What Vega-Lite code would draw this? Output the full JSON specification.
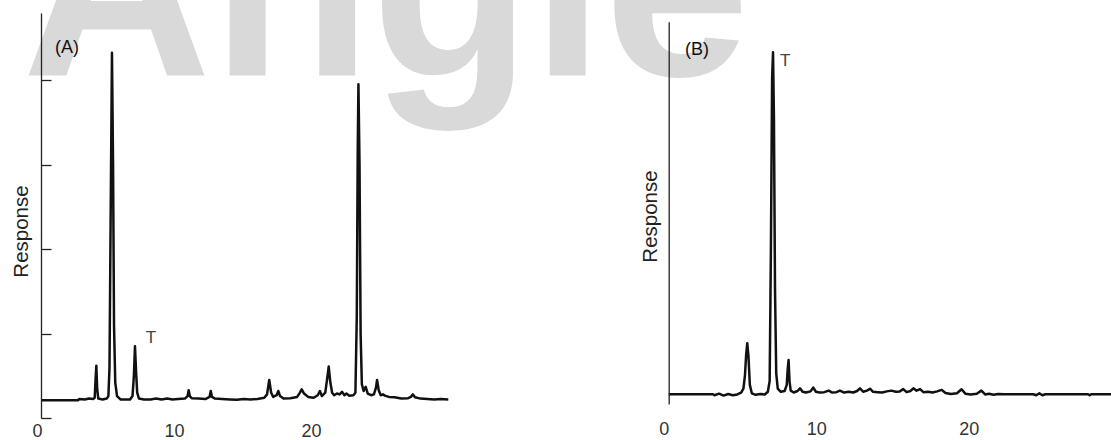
{
  "$schema": "https://vega.github.io/schema/vega-lite/v6.json",
  "width": 1111,
  "height": 440,
  "autosize": {"type": "none"},
  "padding": 0,
  "background": "white",
  "config": {"view": {"stroke": null}, "axis": {"grid": false}},
  "datasets": {
    "wm": [{"label": "Angle", "t": -1.38, "r": 4.06}],
    "labA": [{"label": "(A)", "t": 1.02, "r": 4.38}],
    "tA": [{"label": "T", "t": 8.03, "r": 0.95}],
    "labB": [{"label": "(B)", "t": 1.07, "r": 92.6}],
    "tB": [{"label": "T", "t": 7.63, "r": 89.7}],
    "traceA": [
      {"t": 0, "r": 0.21}, {"t": 1, "r": 0.21}, {"t": 2, "r": 0.21}, {"t": 2.7, "r": 0.21}, {"t": 2.8, "r": 0.225},
      {"t": 3.2, "r": 0.22}, {"t": 3.5, "r": 0.23}, {"t": 3.8, "r": 0.225}, {"t": 3.92, "r": 0.24}, {"t": 3.98, "r": 0.45},
      {"t": 4.04, "r": 0.62}, {"t": 4.1, "r": 0.35}, {"t": 4.18, "r": 0.23}, {"t": 4.5, "r": 0.22}, {"t": 4.8, "r": 0.23},
      {"t": 4.92, "r": 0.26}, {"t": 5.0, "r": 0.6}, {"t": 5.08, "r": 2.3}, {"t": 5.18, "r": 4.33}, {"t": 5.26, "r": 3.0},
      {"t": 5.33, "r": 1.1}, {"t": 5.42, "r": 0.42}, {"t": 5.55, "r": 0.26}, {"t": 5.8, "r": 0.22}, {"t": 6.2, "r": 0.22},
      {"t": 6.5, "r": 0.22}, {"t": 6.68, "r": 0.26}, {"t": 6.78, "r": 0.5}, {"t": 6.86, "r": 0.85}, {"t": 6.94, "r": 0.55},
      {"t": 7.02, "r": 0.3}, {"t": 7.15, "r": 0.23}, {"t": 7.5, "r": 0.22}, {"t": 8.0, "r": 0.22}, {"t": 8.4, "r": 0.23},
      {"t": 8.8, "r": 0.22}, {"t": 9.2, "r": 0.23}, {"t": 9.6, "r": 0.22}, {"t": 10.0, "r": 0.225}, {"t": 10.5, "r": 0.23},
      {"t": 10.7, "r": 0.26}, {"t": 10.78, "r": 0.33}, {"t": 10.86, "r": 0.26}, {"t": 11.0, "r": 0.235}, {"t": 11.5, "r": 0.23},
      {"t": 12.0, "r": 0.225}, {"t": 12.3, "r": 0.25}, {"t": 12.39, "r": 0.32}, {"t": 12.48, "r": 0.25}, {"t": 12.7, "r": 0.23},
      {"t": 13.2, "r": 0.225}, {"t": 13.8, "r": 0.22}, {"t": 14.3, "r": 0.215}, {"t": 14.8, "r": 0.225}, {"t": 15.3, "r": 0.22},
      {"t": 15.8, "r": 0.225}, {"t": 16.3, "r": 0.24}, {"t": 16.5, "r": 0.28}, {"t": 16.66, "r": 0.45}, {"t": 16.8, "r": 0.3},
      {"t": 16.95, "r": 0.25}, {"t": 17.2, "r": 0.27}, {"t": 17.32, "r": 0.32}, {"t": 17.45, "r": 0.26}, {"t": 17.7, "r": 0.23},
      {"t": 18.2, "r": 0.235}, {"t": 18.7, "r": 0.25}, {"t": 18.9, "r": 0.3}, {"t": 19.03, "r": 0.34}, {"t": 19.2, "r": 0.29},
      {"t": 19.5, "r": 0.25}, {"t": 19.9, "r": 0.24}, {"t": 20.2, "r": 0.27}, {"t": 20.36, "r": 0.32}, {"t": 20.5, "r": 0.26},
      {"t": 20.75, "r": 0.3}, {"t": 20.9, "r": 0.48}, {"t": 21.0, "r": 0.61}, {"t": 21.12, "r": 0.42}, {"t": 21.25, "r": 0.3},
      {"t": 21.4, "r": 0.27}, {"t": 21.6, "r": 0.29}, {"t": 21.8, "r": 0.28}, {"t": 21.97, "r": 0.31}, {"t": 22.15, "r": 0.27},
      {"t": 22.3, "r": 0.29}, {"t": 22.5, "r": 0.265}, {"t": 22.8, "r": 0.27}, {"t": 22.95, "r": 0.3}, {"t": 23.05, "r": 1.2},
      {"t": 23.12, "r": 3.2}, {"t": 23.17, "r": 3.955}, {"t": 23.25, "r": 3.0}, {"t": 23.33, "r": 1.0}, {"t": 23.42, "r": 0.4},
      {"t": 23.55, "r": 0.32}, {"t": 23.7, "r": 0.37}, {"t": 23.85, "r": 0.29}, {"t": 24.1, "r": 0.27}, {"t": 24.3, "r": 0.28},
      {"t": 24.45, "r": 0.36}, {"t": 24.53, "r": 0.45}, {"t": 24.65, "r": 0.33}, {"t": 24.8, "r": 0.27}, {"t": 24.96, "r": 0.28},
      {"t": 25.1, "r": 0.265}, {"t": 25.4, "r": 0.25}, {"t": 25.8, "r": 0.245}, {"t": 26.3, "r": 0.23}, {"t": 26.8, "r": 0.235},
      {"t": 27.0, "r": 0.25}, {"t": 27.15, "r": 0.28}, {"t": 27.3, "r": 0.245}, {"t": 27.7, "r": 0.23}, {"t": 28.2, "r": 0.225},
      {"t": 28.7, "r": 0.22}, {"t": 29.2, "r": 0.225}, {"t": 29.73, "r": 0.22}
    ],
    "traceB": [
      {"t": 0, "r": 2.54}, {"t": 2.9, "r": 2.54}, {"t": 3.0, "r": 2.3}, {"t": 3.3, "r": 2.7}, {"t": 3.6, "r": 2.2},
      {"t": 3.9, "r": 2.6}, {"t": 4.2, "r": 2.3}, {"t": 4.5, "r": 2.5}, {"t": 4.75, "r": 3.0}, {"t": 4.9, "r": 4.0},
      {"t": 5.0, "r": 7.5}, {"t": 5.08, "r": 13.0}, {"t": 5.15, "r": 15.9}, {"t": 5.23, "r": 12.5}, {"t": 5.32, "r": 5.0},
      {"t": 5.45, "r": 2.8}, {"t": 5.7, "r": 2.4}, {"t": 6.0, "r": 2.6}, {"t": 6.3, "r": 2.5}, {"t": 6.5, "r": 3.2},
      {"t": 6.62, "r": 6.0}, {"t": 6.7, "r": 40}, {"t": 6.78, "r": 85}, {"t": 6.84, "r": 92.0}, {"t": 6.9, "r": 75},
      {"t": 6.97, "r": 30}, {"t": 7.05, "r": 8}, {"t": 7.15, "r": 4.0}, {"t": 7.35, "r": 3.2}, {"t": 7.6, "r": 3.4},
      {"t": 7.74, "r": 5.0}, {"t": 7.8, "r": 9.0}, {"t": 7.86, "r": 11.5}, {"t": 7.92, "r": 6.0}, {"t": 8.0, "r": 3.5},
      {"t": 8.2, "r": 3.0}, {"t": 8.45, "r": 3.4}, {"t": 8.61, "r": 4.1}, {"t": 8.78, "r": 3.2}, {"t": 9.0, "r": 3.0},
      {"t": 9.3, "r": 3.3}, {"t": 9.48, "r": 4.3}, {"t": 9.65, "r": 3.2}, {"t": 9.9, "r": 3.0}, {"t": 10.2, "r": 3.1},
      {"t": 10.5, "r": 3.5}, {"t": 10.7, "r": 3.0}, {"t": 11.0, "r": 3.1}, {"t": 11.23, "r": 3.5}, {"t": 11.5, "r": 3.0},
      {"t": 11.8, "r": 3.2}, {"t": 12.1, "r": 3.0}, {"t": 12.35, "r": 3.4}, {"t": 12.54, "r": 4.1}, {"t": 12.75, "r": 3.2},
      {"t": 13.0, "r": 3.5}, {"t": 13.2, "r": 4.0}, {"t": 13.4, "r": 3.2}, {"t": 13.7, "r": 3.1}, {"t": 14.0, "r": 3.0},
      {"t": 14.3, "r": 3.3}, {"t": 14.6, "r": 3.5}, {"t": 14.9, "r": 3.2}, {"t": 15.15, "r": 3.3}, {"t": 15.38, "r": 3.9},
      {"t": 15.6, "r": 3.1}, {"t": 15.85, "r": 3.4}, {"t": 16.04, "r": 4.1}, {"t": 16.25, "r": 3.5}, {"t": 16.48, "r": 3.9},
      {"t": 16.7, "r": 3.1}, {"t": 17.0, "r": 3.2}, {"t": 17.3, "r": 3.0}, {"t": 17.6, "r": 3.3}, {"t": 17.9, "r": 3.7},
      {"t": 18.15, "r": 2.9}, {"t": 18.5, "r": 2.6}, {"t": 18.9, "r": 2.8}, {"t": 19.2, "r": 3.85}, {"t": 19.45, "r": 2.7},
      {"t": 19.8, "r": 2.5}, {"t": 20.2, "r": 2.7}, {"t": 20.5, "r": 3.5}, {"t": 20.75, "r": 2.5}, {"t": 21.0, "r": 2.7},
      {"t": 21.3, "r": 2.4}, {"t": 21.6, "r": 2.6}, {"t": 22.0, "r": 2.54}, {"t": 23.0, "r": 2.54}, {"t": 23.9, "r": 2.54},
      {"t": 24.1, "r": 2.3}, {"t": 24.3, "r": 2.8}, {"t": 24.5, "r": 2.3}, {"t": 24.7, "r": 2.54}, {"t": 26.0, "r": 2.54},
      {"t": 27.5, "r": 2.54}, {"t": 27.6, "r": 2.3}, {"t": 27.7, "r": 2.54}, {"t": 29.0, "r": 2.54}
    ]
  },
  "layer": [
    {
      "encoding": {
        "x": {
          "field": "t", "type": "quantitative",
          "scale": {"domain": [0, 30], "range": [41, 452], "nice": false, "zero": false},
          "axis": {"orient": "bottom", "offset": -22, "domain": false, "ticks": false, "tickSize": 0,
                   "values": [0, 10, 20], "labelPadding": 4, "labelOffset": -4, "labelFlush": false,
                   "labelFont": "Liberation Sans", "labelFontSize": 18, "labelColor": "#333", "title": null}
        },
        "y": {
          "field": "r", "type": "quantitative",
          "scale": {"domain": [0, 4.8], "range": [418, 13], "nice": false, "zero": false},
          "axis": {"orient": "left", "offset": -41, "labels": false, "values": [0, 1, 2, 3, 4],
                   "tickSize": -10, "tickColor": "#222", "tickWidth": 1.3, "domainColor": "#222", "domainWidth": 1.3,
                   "zindex": 1, "title": "Response", "titleX": -20, "titleY": 231, "titleAngle": -90,
                   "titleBaseline": "middle", "titleAlign": "center", "titleFont": "Liberation Sans",
                   "titleFontSize": 20.5, "titleFontWeight": "normal", "titleColor": "#222", "titlePadding": 0}
        }
      },
      "layer": [
        {
          "data": {"name": "wm"},
          "mark": {"type": "text", "clip": true, "align": "left", "baseline": "alphabetic",
                   "font": "Liberation Sans", "fontWeight": "bold", "fontSize": 262, "color": "#d9d9d9"},
          "encoding": {"text": {"field": "label"}}
        },
        {
          "data": {"name": "traceA"},
          "mark": {"type": "line", "color": "#111", "strokeWidth": 2.5, "strokeJoin": "round"}
        },
        {
          "data": {"name": "labA"},
          "mark": {"type": "text", "align": "left", "baseline": "middle", "font": "Liberation Sans",
                   "fontSize": 18, "color": "#111"},
          "encoding": {"text": {"field": "label"}}
        },
        {
          "data": {"name": "tA"},
          "mark": {"type": "text", "align": "center", "baseline": "middle", "font": "Liberation Sans",
                   "fontSize": 17, "color": "#444"},
          "encoding": {"text": {"field": "label"}}
        }
      ]
    },
    {
      "encoding": {
        "x": {
          "field": "t", "type": "quantitative",
          "scale": {"domain": [0, 29], "range": [668.7, 1111], "nice": false, "zero": false},
          "axis": {"orient": "bottom", "offset": -22, "domain": false, "ticks": false, "tickSize": 0,
                   "values": [0, 10, 20], "labelPadding": 2, "labelOffset": -5, "labelFlush": false,
                   "labelFont": "Liberation Sans", "labelFontSize": 18, "labelColor": "#333", "title": null}
        },
        "y": {
          "field": "r", "type": "quantitative",
          "scale": {"domain": [0, 100], "range": [404, 21.7], "nice": false, "zero": false},
          "axis": {"orient": "left", "offset": -668.7, "labels": false, "ticks": false,
                   "domainColor": "#222", "domainWidth": 1.3, "zindex": 1,
                   "title": "Response", "titleX": -18.7, "titleY": 216, "titleAngle": -90,
                   "titleBaseline": "middle", "titleAlign": "center", "titleFont": "Liberation Sans",
                   "titleFontSize": 20.5, "titleFontWeight": "normal", "titleColor": "#222", "titlePadding": 0}
        }
      },
      "layer": [
        {
          "data": {"name": "traceB"},
          "mark": {"type": "line", "color": "#111", "strokeWidth": 2.5, "strokeJoin": "round"}
        },
        {
          "data": {"name": "labB"},
          "mark": {"type": "text", "align": "left", "baseline": "middle", "font": "Liberation Sans",
                   "fontSize": 18, "color": "#111"},
          "encoding": {"text": {"field": "label"}}
        },
        {
          "data": {"name": "tB"},
          "mark": {"type": "text", "align": "center", "baseline": "middle", "font": "Liberation Sans",
                   "fontSize": 17, "color": "#444"},
          "encoding": {"text": {"field": "label"}}
        }
      ]
    }
  ],
  "resolve": {
    "scale": {"x": "independent", "y": "independent"},
    "axis": {"x": "independent", "y": "independent"}
  }
}
